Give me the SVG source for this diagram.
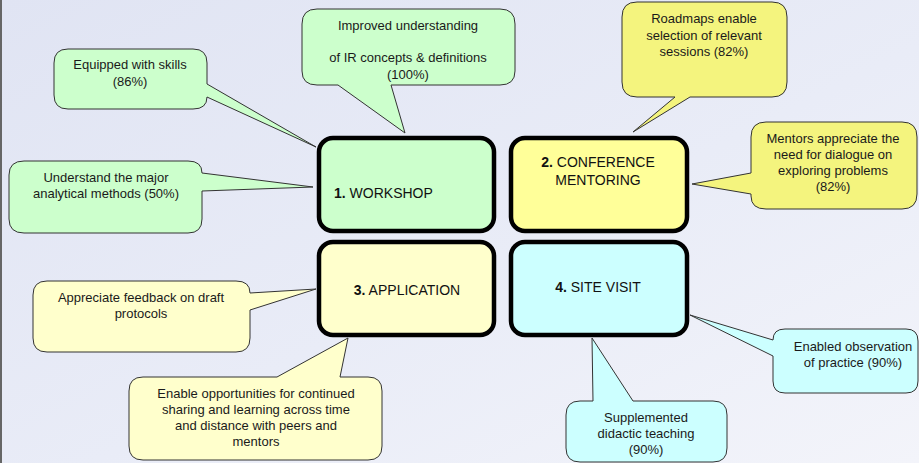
<svg xmlns="http://www.w3.org/2000/svg" width="919" height="463" viewBox="0 0 919 463">
<defs>
<linearGradient id="bg" x1="0" y1="0" x2="1" y2="1">
<stop offset="0" stop-color="#E0E4F3"/>
<stop offset="0.55" stop-color="#E9ECF7"/>
<stop offset="1" stop-color="#F3F4FA"/>
</linearGradient>
<style>
.box{stroke:#000;stroke-width:4.5}
.co{stroke:#333;stroke-width:1}
.t{font-family:"Liberation Sans",Arial,sans-serif;font-size:13px;fill:#1a1a1a;text-anchor:middle}
.bt{font-family:"Liberation Sans",Arial,sans-serif;font-size:14px;fill:#111}
.g{fill:#CCFFCC}.y{fill:#FFFF99}.yc{fill:#F4F47E}.ly{fill:#FFFFCC}.c{fill:#CCFFFF}
</style>
</defs>
<rect x="0" y="0" width="919" height="463" fill="url(#bg)"/>
<rect x="0" y="0" width="2" height="463" fill="#666"/>

<g id="main-boxes">
<g id="workshop"><rect class="box g" x="319" y="138" width="175" height="93" rx="14"/>
<text class="bt" x="334" y="198"><tspan font-weight="bold">1.</tspan> WORKSHOP</text></g>
<g id="conference"><rect class="box y" x="511" y="138" width="176" height="93" rx="14"/>
<text class="bt" x="598" y="167" text-anchor="middle"><tspan font-weight="bold">2.</tspan> CONFERENCE</text>
<text class="bt" x="598" y="185" text-anchor="middle">MENTORING</text></g>
<g id="application"><rect class="box ly" x="319" y="242" width="175" height="93" rx="14"/>
<text class="bt" x="407" y="295" text-anchor="middle"><tspan font-weight="bold">3.</tspan> APPLICATION</text></g>
<g id="sitevisit"><rect class="box c" x="511" y="242" width="176" height="93" rx="14"/>
<text class="bt" x="598" y="292" text-anchor="middle"><tspan font-weight="bold">4.</tspan> SITE VISIT</text></g>
</g>

<g id="callouts">
<g id="c-skills"><path class="co g" d="M68,49 H193 Q207,49 207,63 V84 L316,147 L207,97 Q207,109 193,109 H68 Q54,109 54,95 V63 Q54,49 68,49 Z"/>
<text class="t" x="130" y="69">Equipped with skills</text><text class="t" x="130" y="86">(86%)</text></g>
<g id="c-methods"><path class="co g" d="M24,161 H188 Q202,161 202,173 L313,187 L202,191 V219 Q202,233 188,233 H24 Q9,233 9,219 V175 Q9,161 24,161 Z"/>
<text class="t" x="106" y="182">Understand the major</text><text class="t" x="106" y="198">analytical methods (50%)</text></g>
<g id="c-ir"><path class="co g" d="M317,9 H500 Q515,9 515,24 V71 Q515,85 500,85 H391 L405,133 L338,85 H317 Q302,85 302,71 V24 Q302,9 317,9 Z"/>
<text class="t" x="408" y="30">Improved understanding</text><text class="t" x="408" y="62">of IR concepts &amp; definitions</text><text class="t" x="408" y="79">(100%)</text></g>
<g id="c-roadmaps"><path class="co yc" d="M637,2 H772 Q787,2 787,17 V82 Q787,97 772,97 H690 L633,132 L675,97 H637 Q622,97 622,82 V17 Q622,2 637,2 Z"/>
<text class="t" x="704" y="23">Roadmaps enable</text><text class="t" x="704" y="40">selection of relevant</text><text class="t" x="704" y="56">sessions (82%)</text></g>
<g id="c-mentors"><path class="co yc" d="M766,122 H902 Q917,122 917,137 V194 Q917,209 902,209 H766 Q751,209 751,196 V194 L692,184 L751,173 V137 Q751,122 766,122 Z"/>
<text class="t" x="833" y="143">Mentors appreciate the</text><text class="t" x="833" y="159">need for dialogue on</text><text class="t" x="833" y="175">exploring problems</text><text class="t" x="833" y="191">(82%)</text></g>
<g id="c-feedback"><path class="co ly" d="M47,281 H236 Q250,281 250,293 L316,289 L250,310 V338 Q250,352 236,352 H47 Q33,352 33,338 V295 Q33,281 47,281 Z"/>
<text class="t" x="141" y="302">Appreciate feedback on draft</text><text class="t" x="141" y="318">protocols</text></g>
<g id="c-sharing"><path class="co ly" d="M143,377 H277 L348,338 L340,377 H368 Q382,377 382,391 V446 Q382,460 368,460 H143 Q129,460 129,446 V391 Q129,377 143,377 Z"/>
<text class="t" x="256" y="398">Enable opportunities for continued</text><text class="t" x="256" y="414">sharing and learning across time</text><text class="t" x="256" y="430">and distance with peers and</text><text class="t" x="256" y="446">mentors</text></g>
<g id="c-observation"><path class="co c" d="M785,329 H906 Q918,329 918,341 V381 Q918,393 906,393 H785 Q773,393 773,381 V356 L690,315 L773,340 Q773,329 785,329 Z"/>
<text class="t" x="853" y="351">Enabled observation</text><text class="t" x="853" y="367">of practice (90%)</text></g>
<g id="c-didactic"><path class="co c" d="M580,401 H593 L592,338 L633,401 H713 Q727,401 727,415 V448 Q727,462 713,462 H580 Q566,462 566,448 V415 Q566,401 580,401 Z"/>
<text class="t" x="646" y="422">Supplemented</text><text class="t" x="646" y="438">didactic teaching</text><text class="t" x="646" y="454">(90%)</text></g>
</g>
</svg>
